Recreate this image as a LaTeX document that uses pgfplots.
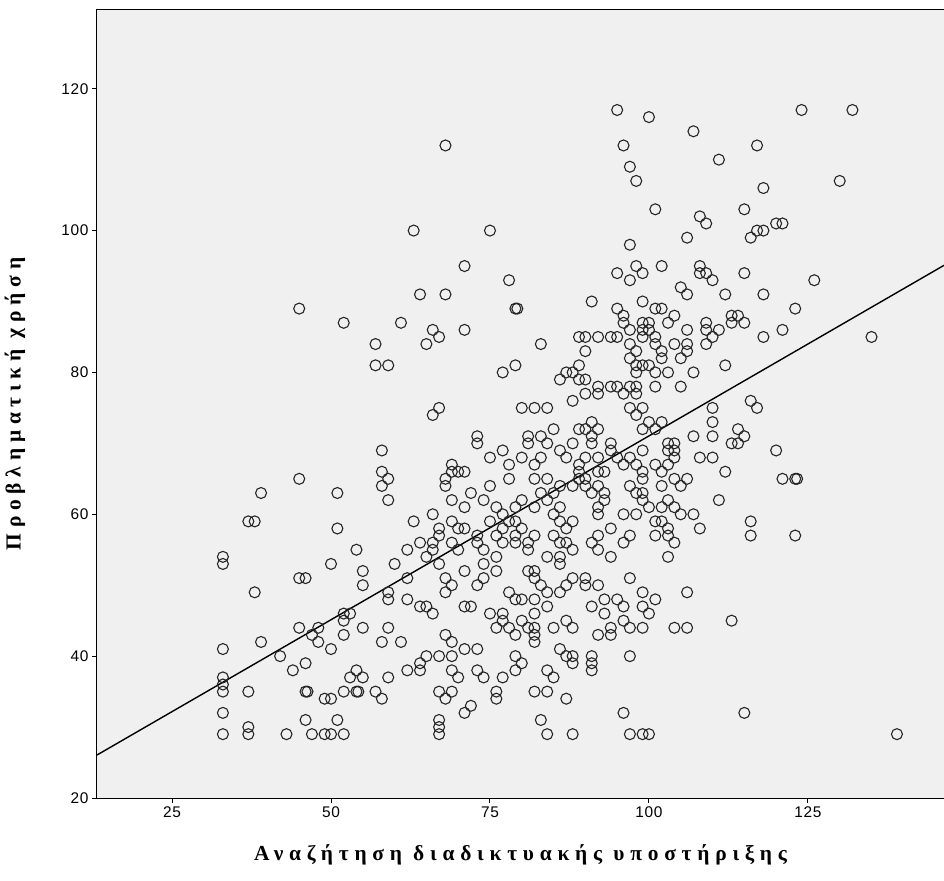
\documentclass[border=0pt]{standalone}
\usepackage{pgfplots}
\pgfplotsset{compat=1.18}
\usepackage{fontspec}
\setmainfont{Liberation Sans}
\newfontfamily\labelfont[LetterSpace=27]{Liberation Serif}
\newfontfamily\tickfont[LetterSpace=4]{Liberation Sans}
\definecolor{plotbg}{HTML}{F0F0F0}
\begin{document}
\begin{tikzpicture}
\useasboundingbox (-97bp,-83bp) rectangle (847bp,798bp);
\begin{axis}[
  at={(0,0)}, anchor=south west,
  width=847bp, height=788bp, scale only axis,
  xmin=13.2, xmax=146.4, ymin=20, ymax=131.1,
  xtick={25,50,75,100,125}, ytick={20,40,60,80,100,120},
  tick align=outside, tick pos=left, major tick length=5bp,
  axis background/.style={fill=plotbg},
  axis line style={line width=1bp, black},
  every tick/.style={line width=1bp, black},
  ticklabel style={font=\tickfont\fontsize{15.5}{17}\selectfont},
  /pgf/number format/assume math mode=true,
  xlabel={Αναζήτηση διαδικτυακής υποστήριξης},
  ylabel={Προβληματική χρήση},
  label style={font=\labelfont\bfseries\fontsize{21.5}{24}\selectfont},
  xlabel style={at={(axis description cs:0.5,-0.0723)}, anchor=center},
  ylabel style={at={(axis description cs:-0.0968,0.5)}, anchor=center, rotate=0},
]
\addplot[only marks, mark=o, mark size=5.5bp, mark options={line width=1.1bp, draw=black!85}] table {
x y
95 117
124 117
132 117
100 116
107 114
68 112
96 112
117 112
111 110
97 109
98 107
130 107
118 106
101 103
115 103
108 102
109 101
120 101
121 101
63 100
75 100
117 100
118 100
106 99
116 99
97 98
71 95
98 95
102 95
108 95
95 94
99 94
108 94
109 94
115 94
78 93
97 93
110 93
126 93
105 92
64 91
68 91
106 91
112 91
118 91
91 90
99 90
45 89
79 89
79.3 89
95 89
101 89
102 89
123 89
96 88
104 88
113 88
114 88
52 87
61 87
96 87
99 87
100 87
103 87
109 87
113 87
115 87
66 86
71 86
97 86
99 86
100 86
106 86
109 86
111 86
121 86
67 85
89 85
90 85
92 85
94 85
95 85
99 85
101 85
110 85
118 85
135 85
57 84
65 84
83 84
97 84
101 84
104 84
106 84
109 84
90 83
98 83
102 83
106 83
97 82
102 82
105 82
57 81
59 81
79 81
89 81
98 81
99 81
100 81
112 81
77 80
87 80
88 80
98 80
101 80
103 80
107 80
86 79
89 79
90 79
92 78
94 78
95 78
97 78
98 78
101 78
105 78
90 77
92 77
96 77
98 77
88 76
116 76
67 75
80 75
82 75
84 75
97 75
99 75
110 75
117 75
66 74
98 74
91 73
100 73
102 73
110 73
85 72
89 72
90 72
92 72
99 72
101 72
114 72
73 71
81 71
83 71
91 71
107 71
110 71
115 71
73 70
81 70
84 70
88 70
91 70
94 70
103 70
104 70
113 70
114 70
58 69
77 69
86 69
94 69
99 69
103 69
104 69
120 69
75 68
80 68
83 68
87 68
90 68
92 68
95 68
97 68
104 68
108 68
110 68
69 67
78 67
82 67
89 67
96 67
98 67
101 67
103 67
58 66
69 66
70 66
71 66
89 66
92 66
93 66
99 66
102 66
112 66
45 65
59 65
68 65
78 65
82 65
84 65
89 65
90 65
99 65
104 65
106 65
121 65
123 65
123.3 65
58 64
68 64
75 64
86 64
88 64
90 64
92 64
97 64
102 64
105 64
39 63
51 63
72 63
83 63
85 63
91 63
93 63
98 63
99 63
59 62
69 62
74 62
80 62
84 62
93 62
99 62
103 62
111 62
71 61
76 61
79 61
82 61
86 61
92 61
100 61
102 61
104 61
66 60
77 60
85 60
92 60
96 60
98 60
105 60
107 60
37 59
38 59
63 59
69 59
75 59
78 59
79 59
86 59
88 59
101 59
102 59
116 59
51 58
67 58
70 58
71 58
77 58
80 58
87 58
94 58
103 58
108 58
67 57
73 57
76 57
79 57
82 57
85 57
92 57
97 57
101 57
103 57
116 57
123 57
64 56
66 56
69 56
73 56
77 56
79 56
81 56
86 56
87 56
91 56
96 56
104 56
54 55
62 55
66 55
70 55
74 55
81 55
88 55
92 55
33 54
65 54
76 54
84 54
86 54
94 54
103 54
33 53
50 53
60 53
67 53
74 53
86 53
55 52
71 52
76 52
81 52
82 52
45 51
46 51
62 51
68 51
74 51
82 51
88 51
90 51
97 51
55 50
69 50
73 50
83 50
87 50
90 50
92 50
38 49
59 49
68 49
78 49
84 49
86 49
99 49
106 49
59 48
62 48
79 48
80 48
82 48
93 48
95 48
101 48
64 47
65 47
71 47
72 47
84 47
91 47
96 47
99 47
52 46
53 46
66 46
75 46
77 46
82 46
93 46
100 46
52 45
77 45
80 45
87 45
96 45
113 45
45 44
48 44
55 44
59 44
76 44
78 44
81 44
82 44
85 44
88 44
94 44
97 44
99 44
104 44
106 44
47 43
52 43
68 43
79 43
82 43
92 43
94 43
39 42
48 42
58 42
61 42
69 42
82 42
33 41
50 41
71 41
73 41
86 41
42 40
65 40
67 40
69 40
79 40
87 40
88 40
91 40
97 40
46 39
64 39
80 39
88 39
91 39
44 38
54 38
62 38
64 38
69 38
73 38
79 38
84 38
91 38
33 37
53 37
55 37
59 37
70 37
74 37
77 37
85 37
33 36
33 35
37 35
46 35
46.3 35
52 35
54 35
54.3 35
57 35
67 35
69 35
76 35
82 35
84 35
49 34
50 34
58 34
68 34
76 34
87 34
72 33
33 32
71 32
96 32
115 32
46 31
51 31
67 31
83 31
37 30
67 30
33 29
37 29
43 29
47 29
49 29
50 29
52 29
67 29
84 29
88 29
97 29
99 29
100 29
139 29
};
\addplot[black, line width=1.4bp] coordinates {(13.2,26.06) (146.4,95.1)};
\end{axis}
\end{tikzpicture}
\end{document}
